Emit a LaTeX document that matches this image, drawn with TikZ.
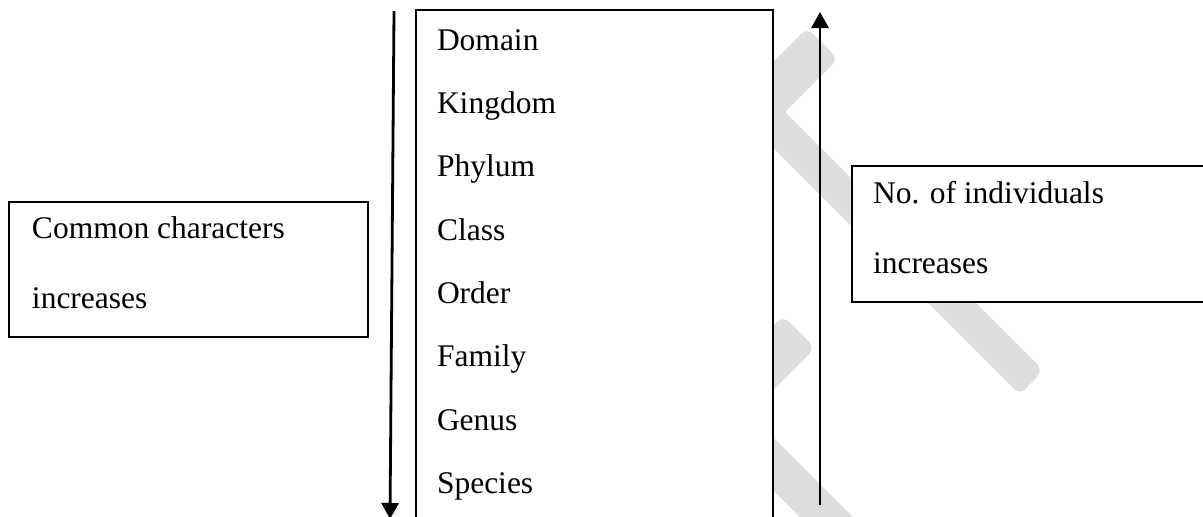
\documentclass[tikz,border=0pt]{standalone}
\usepackage{fontspec}
\setmainfont{Liberation Serif}
\usetikzlibrary{arrows.meta}
\definecolor{wm}{RGB}{221,221,221}
\begin{document}
\begin{tikzpicture}[x=0.5pt,y=-0.5pt,
  box/.style={draw, line width=1pt, fill=white, rectangle, inner sep=0pt, outer sep=0pt},
  lbl/.style={anchor=base west, inner sep=0pt, outer sep=0pt, font=\fontsize{15.75}{18}\selectfont},
  wmark/.style={fill=wm, rounded corners=4pt},
  arr/.style={line width=1.4pt, -{Triangle[length=8pt,width=8.5pt]}}]
\clip (0,0) rectangle (1203,516);
\fill[white] (0,0) rectangle (1203,516);
% watermark
\fill[wmark] (807,28) -- (838,59) -- (700,197) -- (700,135) -- cycle;
\fill[wmark] (700,27) -- (1043,370) -- (1020,395) -- (700,75) -- cycle;
\fill[wmark] (783,316) -- (815,348) -- (700,463) -- (700,399) -- cycle;
\fill[wmark] (700,364) -- (920,584) -- (920,637) -- (700,417) -- cycle;
% boxes
\node[box, minimum width=178.5pt, minimum height=260pt] (taxa) at (594.5,270) {};
\node[box, minimum width=179.5pt, minimum height=67.5pt] (common) at (188.5,269.5) {};
\node[box, minimum width=181.5pt, minimum height=68pt] (indiv) at (1033.5,234) {};
% ranks
\node[lbl] (t1) at (437,50) {Domain};
\node[lbl] (t2) at (437,113.3) {Kingdom};
\node[lbl] (t3) at (437,176.6) {Phylum};
\node[lbl] (t4) at (437,240) {Class};
\node[lbl] (t5) at (437,303.3) {Order};
\node[lbl] (t6) at (437,366.6) {Family};
\node[lbl] (t7) at (437,430) {Genus};
\node[lbl] (t8) at (437,493.3) {Species};
% side texts
\node[lbl] (c1) at (32,238) {Common characters};
\node[lbl] (c2) at (32,308) {increases};
\node[lbl] (n1) at (873,203) {No. of individuals};
\node[lbl] (n2) at (873,273) {increases};
% arrows
\coordinate (la1) at (394,11);
\coordinate (la2) at (390,519);
\draw[arr] (la1) -- (la2);
\coordinate (ra1) at (820,505);
\coordinate (ra2) at (820,12);
\draw[arr] (ra1) -- (ra2);
\end{tikzpicture}
\end{document}
